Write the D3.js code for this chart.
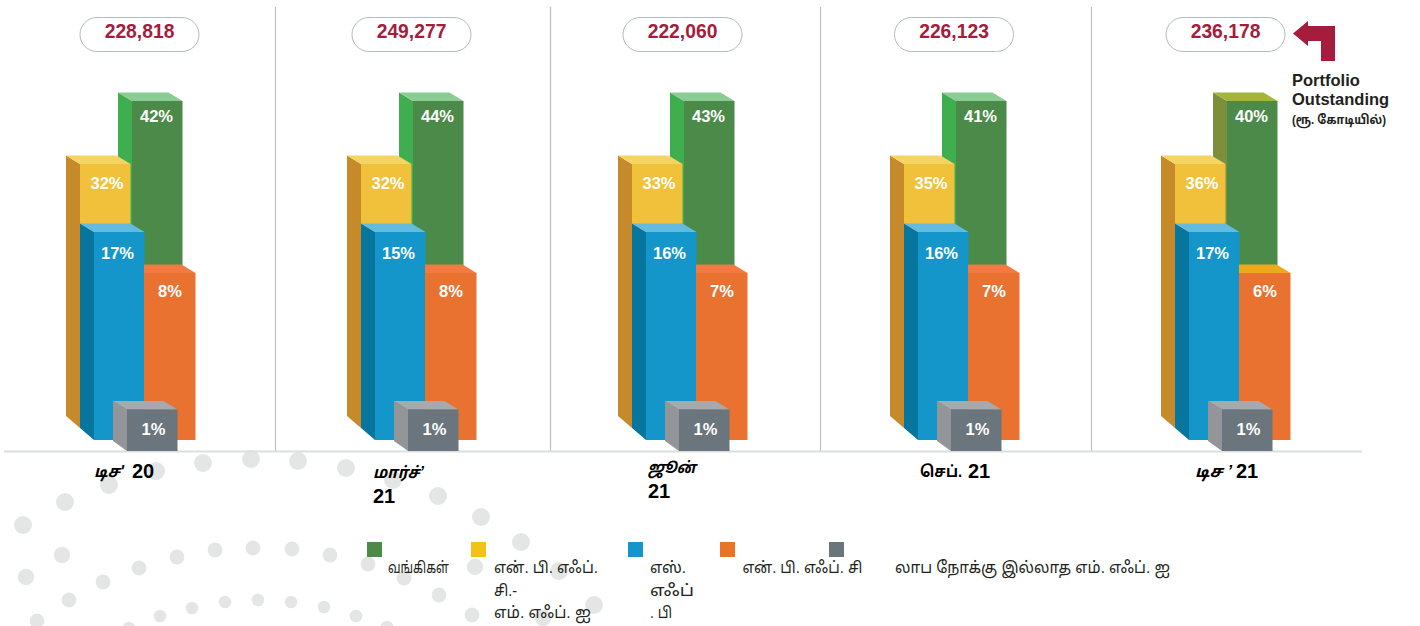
<!DOCTYPE html>
<html><head><meta charset="utf-8">
<style>
html,body{margin:0;padding:0;background:#fff;overflow:hidden}
text{font-family:"Liberation Sans",Arial,"Noto Sans Tamil","Lohit Tamil","Noto Sans",sans-serif}
</style>
<script src="https://cdn.jsdelivr.net/npm/d3@7"></script>
</head><body><svg id="c" width="1420" height="626"></svg>
<script>
const periods = ["Dec20","Mar21","Jun21","Sep21","Dec21"];
const periodTamil = ["டிச'","மார்ச்’","ஜூன்","செப்.","டிச ’"];
const periodYear = ["20","21","21","21","21"];
const totals = [228818,249277,222060,226123,236178];
const seriesNames = ["வங்கிகள்","என்.பி.எஃப்.சி.-எம்.எஃப்.ஐ","எஸ்.எஃப்.பி","என். பி.எஃப்.சி","லாப நோக்கு இல்லாத எம்.எஃப்.ஐ"];
const banks = [42,44,43,41,40];
const nbfcMfi = [32,32,33,35,36];
const sfb = [17,15,16,16,17];
const nbfc = [8,8,7,7,6];
const nonProfit = [1,1,1,1,1];
const seriesValues = [banks,nbfcMfi,sfb,nbfc,nonProfit];
const legendLines = [["வங்கிகள்"],["என். பி. எஃப்.","சி.-","எம். எஃப். ஐ"],["எஸ்.","எஃப்",". பி"],["என். பி. எஃப். சி"],["லாப நோக்கு இல்லாத எம். எஃப். ஐ"]];
const unitLines = ["Portfolio","Outstanding","(ரூ. கோடியில்)"];

// background dot arcs (decoration)
const dotsLarge = [[23,525],[65,502],[109,485],[156,471],[203,463],[251,459],[298,461],[346,468],[393,480],[438,496],[481,517],[521,542],[559,571],[594,605]];
const dotsOuter = [[26,577],[62,555],[475,567],[543,618]];
const dotsMid = [[37,621],[69,600],[103,582],[139,568],[177,557],[215,550],[253,548],[292,549],[330,555],[368,564],[404,578],[439,595],[472,615]];
const dotsSmall = [[129,628],[160,616],[192,608],[225,602],[258,600],[291,602],[324,607],[356,616],[387,627]];

const svg = d3.select("#c");
const CRIMSON = "#a51c3c";

// The source draws stylised bars: each series has one fixed height in every period.
const yTop = d3.scaleOrdinal(seriesNames,[101,164,232,273,409.5]);
const yBottom = d3.scaleOrdinal(seriesNames,[428,428,440,440,451]);
const groupX = d3.scaleOrdinal(periods,[0,281,552,824,1095]);
const pillX = d3.scaleOrdinal(periods,[139.5,411.5,682.5,954,1225.5]);
const frontX = d3.scaleOrdinal(seriesNames,[132,80,94,144,127]);
const frontW = d3.scaleOrdinal(seriesNames,[50.5,50.5,50.5,51.5,50.5]);
const labelDX = d3.scaleOrdinal(seriesNames,[24.5,27,23.5,26,26.5]);
const labelDY = d3.scaleOrdinal(seriesNames,[20.7,24.7,27,24,25.2]);
const depthX = 14, depthY = 8.5;
const fills = d3.scaleOrdinal(seriesNames,[
 {f:"#4c8a4a",s:"#3fae4e",t:"#8bcc92"},
 {f:"#f1c13b",s:"#c68a2a",t:"#f4d462"},
 {f:"#1596cb",s:"#07769f",t:"#63bbe0"},
 {f:"#e97231",s:"#e97231",t:"#f27b44"},
 {f:"#6b757d",s:"#939598",t:"#a7a9ac"}]);
const fillsLast = {[seriesNames[0]]:{s:"#7d8f3c",t:"#a3b53a"},[seriesNames[3]]:{t:"#eca91b"}};
const legendX = d3.scaleOrdinal(seriesNames,[367,471,628,720,829]);
const legendTextX = d3.scaleOrdinal(seriesNames,[388,494,650,742.5,895]);
const legendWidths = d3.scaleOrdinal(seriesNames,[[61],[104,23,97],[36,44,22],[120],[275]]);
const legendColor = d3.scaleOrdinal(seriesNames,["#4c8a48","#f2c316","#1596cb","#ea7425","#6b757c"]);
// tamil start, tamil width, year x, year baseline
const labelLeft = d3.scaleOrdinal(periods,[94,373,648,920,1195]);
const labelTamilW = d3.scaleOrdinal(periods,[30,51,48,42,37]);
const labelY = d3.scaleOrdinal(periods,[477,478,473,477,477]);
const yearX = d3.scaleOrdinal(periods,[132,373,648,968,1236]);
const yearY = d3.scaleOrdinal(periods,[477.5,503,498,477.5,477.5]);
const labelItalic = d3.scaleOrdinal(periods,["italic","italic","italic","normal","italic"]);

// dots
[[dotsLarge,9],[dotsOuter,8.2],[dotsMid,7.4],[dotsSmall,6.3]].forEach(([pts,r])=>{
 svg.append("g").selectAll("circle").data(pts).join("circle")
  .attr("cx",d=>d[0]).attr("cy",d=>d[1]).attr("r",r).attr("fill","#e4e6e6");
});

// dividers & baseline
svg.append("g").selectAll("line").data([275.5,550.5,820.5,1091.5]).join("line")
 .attr("x1",d=>d).attr("x2",d=>d).attr("y1",7).attr("y2",451)
 .attr("stroke","#bcc1c5").attr("stroke-width",1.2);
svg.append("line").attr("x1",4).attr("x2",1362).attr("y1",451.5).attr("y2",451.5)
 .attr("stroke","#dcdddd").attr("stroke-width",2);

// bars (back to front)
const drawOrder = [0,1,2,3,4];
periods.forEach((p,pi)=>{
 const g = svg.append("g").attr("transform",`translate(${groupX(p)},0)`);
 drawOrder.forEach(si=>{
  const name = seriesNames[si], x=frontX(name), w=frontW(name), y0=yTop(name), y1=yBottom(name);
  let c = {...fills(name)};
  if(pi===4 && fillsLast[name]) c = {...c,...fillsLast[name]};
  const hasSide = si!==3;
  if(hasSide) g.append("polygon").attr("fill",c.s)
    .attr("points",[[x-depthX,y0-depthY],[x,y0],[x,y1],[x-depthX,y1-(si===4?10:12)]].join(" "));
  const topPts = si===3
    ? [[x,y0-depthY],[x+w-depthX,y0-depthY],[x+w,y0],[x,y0]]
    : [[x-depthX,y0-depthY],[x+w-depthX,y0-depthY],[x+w,y0],[x,y0]];
  g.append("polygon").attr("fill",c.t).attr("points",topPts.join(" "));
  g.append("rect").attr("x",x).attr("y",y0).attr("width",w).attr("height",y1-y0).attr("fill",c.f);
 });
 drawOrder.forEach(si=>{
  const name = seriesNames[si];
  g.append("text").attr("x",frontX(name)+labelDX(name)).attr("y",yTop(name)+labelDY(name))
   .attr("text-anchor","middle").attr("fill","#fff").attr("font-weight","700").attr("font-size",16.5)
   .text(seriesValues[si][pi]+"%");
 });
});

// pills
const fmt = d3.format(",");
const pill = svg.append("g").selectAll("g").data(periods).join("g")
 .attr("transform",d=>`translate(${pillX(d)},0)`);
pill.append("rect").attr("x",-59.5).attr("y",17.5).attr("width",119).attr("height",34).attr("rx",17)
 .attr("fill","#fff").attr("stroke","#b4bac0").attr("stroke-width",1);
pill.append("text").attr("y",37.5).attr("text-anchor","middle").attr("fill",CRIMSON)
 .attr("font-weight","700").attr("font-size",19.3).text((d,i)=>fmt(totals[i]));

// arrow
const arrowLine = d3.line();
svg.append("path").attr("fill",CRIMSON)
 .attr("d",arrowLine([[1293,33.5],[1308,21],[1308,26],[1335,26],[1335,61],[1321,61],[1321,41],[1308,41],[1308,46]])+"Z");
svg.append("g").selectAll("text").data(unitLines).join("text")
 .attr("x",1292).attr("y",(d,i)=>[86,105,124][i]).attr("fill","#231f20").attr("font-weight","700")
 .attr("font-size",(d,i)=>i===2?12.5:16.5)
 .each(function(d,i){ if(i===2) d3.select(this).attr("textLength",94).attr("lengthAdjust","spacingAndGlyphs"); })
 .text(d=>d);

// period labels
svg.append("g").selectAll("text").data(periods).join("text")
 .attr("x",d=>labelLeft(d)).attr("y",d=>labelY(d)).attr("fill","#000")
 .attr("font-weight","700").attr("font-size",16).attr("font-style",d=>labelItalic(d))
 .attr("textLength",d=>labelTamilW(d)).attr("lengthAdjust","spacingAndGlyphs")
 .text((d,i)=>periodTamil[i]);
svg.append("g").selectAll("text").data(periods).join("text")
 .attr("x",d=>yearX(d)).attr("y",d=>yearY(d)).attr("fill","#000")
 .attr("font-weight","700").attr("font-size",20).text((d,i)=>periodYear[i]);

// legend
svg.append("g").selectAll("rect").data(seriesNames).join("rect")
 .attr("x",d=>legendX(d)).attr("y",542).attr("width",15).attr("height",15).attr("fill",d=>legendColor(d));
seriesNames.forEach((n,i)=>{
 svg.append("g").selectAll("text").data(legendLines[i]).join("text")
  .attr("x",legendTextX(n)).attr("y",(d,k)=>573+k*22.5).attr("fill","#231f20").attr("font-size",16)
  .attr("textLength",(d,k)=>legendWidths(n)[k]).attr("lengthAdjust","spacingAndGlyphs").text(d=>d);
});
</script></body></html>
